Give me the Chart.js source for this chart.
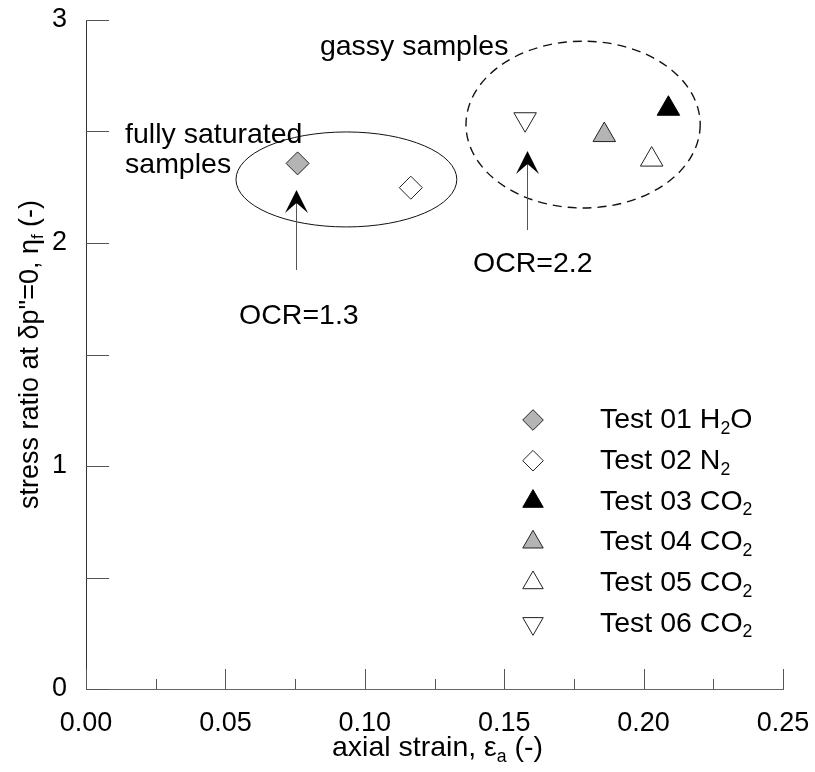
<!DOCTYPE html>
<html>
<head>
<meta charset="utf-8">
<script src="https://cdn.jsdelivr.net/npm/chart.js@4.4.0/dist/chart.umd.min.js"></script>
<style>
  html, body { margin: 0; padding: 0; background: #fff; }
</style>
</head>
<body>
<canvas id="chart" width="815" height="772"></canvas>
<script>
// ---- data ----
const testLabels = ['Test 01 H_{2}O', 'Test 02 N_{2}', 'Test 03 CO_{2}', 'Test 04 CO_{2}', 'Test 05 CO_{2}', 'Test 06 CO_{2}'];
const axialStrain = [0.0759, 0.1165, 0.2089, 0.1859, 0.2029, 0.1575];
const stressRatio = [2.357, 2.248, 2.602, 2.484, 2.374, 2.555];

const xTitle = 'axial strain, ε_{a} (-)';
const yTitle = 'stress ratio at δp"=0, η_{f} (-)';

// marker look per test
const markerStyles = [
    { pointStyle: 'rectRot', radius: 11.5, rotation: 0, fill: '#b4b4b4', stroke: '#222' },
    { pointStyle: 'rectRot', radius: 11.5, rotation: 0, fill: '#ffffff', stroke: '#222' },
    { pointStyle: 'triangle', radius: 13, rotation: 0, fill: '#000000', stroke: '#000' },
    { pointStyle: 'triangle', radius: 13, rotation: 0, fill: '#b4b4b4', stroke: '#222' },
    { pointStyle: 'triangle', radius: 13, rotation: 0, fill: '#ffffff', stroke: '#222' },
    { pointStyle: 'triangle', radius: 13, rotation: 180, fill: '#ffffff', stroke: '#222' }
];

const FONT = '"Liberation Sans", Arial, Helvetica, sans-serif';
const FS_TICK = 27;
const FS_TEXT = 28.5;

// ==========================================
// texto con subíndices
// ==========================================
function richParts(str) {
    const parts = [];
    const re = /_\{([^}]*)\}/g;
    let last = 0, m;
    while ((m = re.exec(str))) {
        if (m.index > last) parts.push({ t: str.slice(last, m.index), sub: false });
        parts.push({ t: m[1], sub: true });
        last = re.lastIndex;
    }
    if (last < str.length) parts.push({ t: str.slice(last), sub: false });
    return parts;
}

function drawRich(ctx, str, x, yMid, size, align) {
    const parts = richParts(str);
    let w = 0;
    parts.forEach(p => {
        ctx.font = (p.sub ? size * 0.62 : size) + 'px ' + FONT;
        p.w = ctx.measureText(p.t).width;
        w += p.w;
    });
    let cx = align === 'center' ? x - w / 2 : x;
    const base = yMid + size * 0.36;
    ctx.textAlign = 'left';
    ctx.textBaseline = 'alphabetic';
    parts.forEach(p => {
        ctx.font = (p.sub ? size * 0.62 : size) + 'px ' + FONT;
        ctx.fillText(p.t, cx, p.sub ? base + size * 0.2 : base);
        cx += p.w;
    });
}

// annotations, in data units
const notes = {
    ellipses: [
        { cx: 0.0934, cy: 2.285, rx: 0.0396, ry: 0.213, dash: [], width: 1 },
        { cx: 0.1783, cy: 2.531, rx: 0.0420, ry: 0.374, dash: [9, 6], width: 1.4 }
    ],
    arrows: [
        { x: 0.0753, from: 1.879, to: 2.238 },
        { x: 0.1582, from: 2.058, to: 2.413 }
    ],
    labels: [
        { text: 'gassy samples', x: 0.0839, y: 2.888 },
        { text: 'fully saturated', x: 0.0140, y: 2.493 },
        { text: 'samples', x: 0.0140, y: 2.359 },
        { text: 'OCR=1.3', x: 0.0549, y: 1.682 },
        { text: 'OCR=2.2', x: 0.1388, y: 1.915 }
    ]
};

const overlay = {
    id: 'overlay',
    afterDraw(chart) {
        const ctx = chart.ctx;
        const { x, y } = chart.scales;
        const area = chart.chartArea;
        ctx.save();

        // inward tick marks
        ctx.strokeStyle = '#555';
        ctx.lineWidth = 1;
        y.ticks.forEach(t => {
            const py = Math.round(y.getPixelForValue(t.value)) + 0.5;
            ctx.beginPath();
            ctx.moveTo(area.left, py);
            ctx.lineTo(area.left + 23, py);
            ctx.stroke();
        });
        x.ticks.forEach(t => {
            const px = Math.round(x.getPixelForValue(t.value)) + 0.5;
            const len = t.label !== '' ? 20 : 10;
            ctx.beginPath();
            ctx.moveTo(px, area.bottom);
            ctx.lineTo(px, area.bottom - len);
            ctx.stroke();
        });

        // ellipses
        ctx.strokeStyle = '#111';
        notes.ellipses.forEach(e => {
            const cx = x.getPixelForValue(e.cx), cy = y.getPixelForValue(e.cy);
            const rx = x.getPixelForValue(e.cx + e.rx) - cx;
            const ry = cy - y.getPixelForValue(e.cy + e.ry);
            ctx.setLineDash(e.dash);
            ctx.lineWidth = e.width;
            ctx.beginPath();
            ctx.ellipse(cx, cy, rx, ry, 0, 0, Math.PI * 2);
            ctx.stroke();
        });
        ctx.setLineDash([]);

        // arrows
        notes.arrows.forEach(a => {
            const px = Math.round(x.getPixelForValue(a.x)) + 0.5;
            const y0 = y.getPixelForValue(a.from), y1 = y.getPixelForValue(a.to);
            ctx.strokeStyle = '#555';
            ctx.lineWidth = 1;
            ctx.beginPath();
            ctx.moveTo(px, y0);
            ctx.lineTo(px, y1 + 12);
            ctx.stroke();
            ctx.fillStyle = '#000';
            ctx.beginPath();
            ctx.moveTo(px, y1);
            ctx.lineTo(px + 11.5, y1 + 23);
            ctx.lineTo(px, y1 + 13);
            ctx.lineTo(px - 11.5, y1 + 23);
            ctx.closePath();
            ctx.fill();
        });

        // text labels
        ctx.fillStyle = '#000';
        notes.labels.forEach(l => {
            drawRich(ctx, l.text, x.getPixelForValue(l.x), y.getPixelForValue(l.y), FS_TEXT, 'left');
        });

        // legend
        const legX = area.left + 447, legText = area.left + 514, legTop = 420, legStep = 40.7;
        testLabels.forEach((lab, i) => {
            const s = markerStyles[i];
            const ly = legTop + i * legStep;
            ctx.fillStyle = s.fill;
            ctx.strokeStyle = s.stroke;
            ctx.lineWidth = 1;
            Chart.helpers.drawPoint(ctx, {
                pointStyle: s.pointStyle, radius: s.radius - 1.2, rotation: s.rotation, borderWidth: 1
            }, legX, ly);
            ctx.fillStyle = '#000';
            drawRich(ctx, lab, legText, ly - 2, FS_TEXT, 'left');
        });

        // axis titles
        drawRich(ctx, xTitle, (area.left + area.right) / 2 + 3, 746, 28.5, 'center');
        ctx.translate(28, (area.top + area.bottom) / 2);
        ctx.rotate(-Math.PI / 2);
        drawRich(ctx, yTitle, 0, 0, 27, 'center');

        ctx.restore();
    }
};

const datasets = axialStrain.map((v, i) => ({
    label: testLabels[i],
    data: [{ x: v, y: stressRatio[i] }],
    pointStyle: markerStyles[i].pointStyle,
    pointRadius: markerStyles[i].radius,
    pointRotation: markerStyles[i].rotation,
    backgroundColor: markerStyles[i].fill,
    borderColor: markerStyles[i].stroke,
    borderWidth: 1,
    showLine: false
}));

new Chart(document.getElementById('chart'), {
    type: 'scatter',
    data: { datasets: datasets },
    options: {
        responsive: false,
        animation: false,
        devicePixelRatio: 1,
        layout: { padding: { left: 0, right: 32, top: 20, bottom: 0 } },
        plugins: {
            legend: { display: false },
            tooltip: { enabled: false }
        },
        scales: {
            x: {
                type: 'linear',
                min: 0,
                max: 0.25,
                grid: { display: false },
                border: { display: true, color: '#666', width: 1 },
                ticks: {
                    stepSize: 0.025,
                    autoSkip: false,
                    maxRotation: 0,
                    padding: 10,
                    color: '#000',
                    font: { family: FONT, size: FS_TICK },
                    callback: v => (Math.round(v / 0.025) % 2 === 0 ? v.toFixed(2) : '')
                },
                afterFit: scale => {
                    scale.height = 83;
                    scale.paddingLeft = 0;
                    scale.paddingRight = 0;
                }
            },
            y: {
                type: 'linear',
                min: 0,
                max: 3,
                grid: { display: false },
                border: { display: true, color: '#333', width: 1 },
                ticks: {
                    stepSize: 0.5,
                    autoSkip: false,
                    padding: 11,
                    color: '#000',
                    font: { family: FONT, size: FS_TICK },
                    callback: v => (Number.isInteger(v) ? String(v) : '')
                },
                afterFit: scale => {
                    scale.width = 86;
                    scale.paddingTop = 0;
                    scale.paddingBottom = 0;
                }
            }
        }
    },
    plugins: [overlay]
});
</script>
</body>
</html>
